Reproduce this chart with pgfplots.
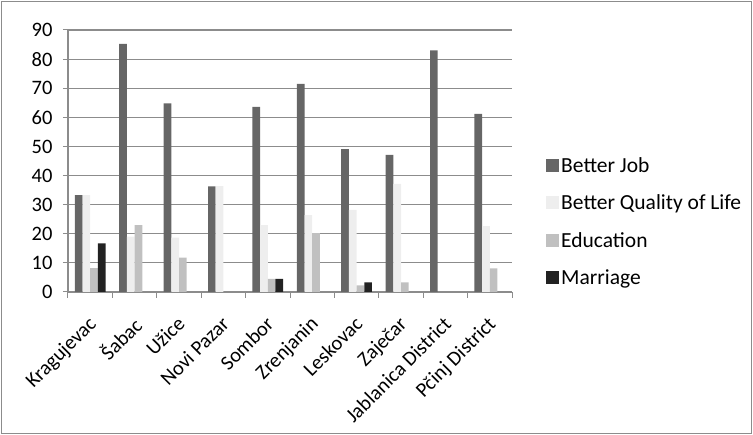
\documentclass[border=0pt]{standalone}
\usepackage{fontspec}
\setmainfont{Carlito}
\usepackage{pgfplots}
\pgfplotsset{compat=1.18}
\definecolor{cjob}{HTML}{666666}
\definecolor{cqol}{HTML}{EEEEEE}
\definecolor{cedu}{HTML}{C0C0C0}
\definecolor{cmar}{HTML}{222222}
\definecolor{gridc}{HTML}{8C8C8C}
\begin{document}
\begin{tikzpicture}
\useasboundingbox (0pt,0pt) rectangle (753pt,435pt);
\draw[gridc,line width=1pt] (1.5pt,1.5pt) rectangle (751.5pt,433.5pt);
\begin{axis}[
  at={(68pt,143pt)}, anchor=south west,
  scale only axis, width=444pt, height=262pt,
  xmin=-0.5, xmax=9.5, ymin=0, ymax=90,
  ybar=0pt, bar width=0.173,
  axis x line*=bottom, axis y line*=left,
  axis line style={gridc,line width=1.2pt,-},
  ytick={0,10,...,90},
  ymajorgrids, grid style={gridc,line width=1.2pt},
  xtick={0,...,9},
  xticklabels={Kragujevac,Šabac,Užice,Novi Pazar,Sombor,Zrenjanin,Leskovac,Zaječar,Jablanica District,Pčinj District},
  x tick label style={xshift=-3pt,yshift=-18pt,rotate=45,anchor=north east,inner sep=0pt},
  y tick label style={xshift=-7pt},
  major x tick style={draw=none},
  minor xtick={-0.5,0.5,...,9.5},
  minor x tick style={gridc,line width=1pt},
  minor tick length=6pt,
  y tick style={gridc,line width=1pt},
  major tick length=5pt,
  tick align=outside,
  ticklabel style={font=\fontsize{20.5}{22}\selectfont, text=black},
  /pgf/number format/assume math mode=true,
  legend style={at={(1.0766,0.269)}, anchor=west, draw=none, fill=none,
    font=\fontsize{21.5}{23}\selectfont, row sep=17pt, inner sep=0pt,
    legend cell align=left, nodes={inner sep=2pt}},
  legend image code/.code={\fill[#1] (0pt,-6.5pt) rectangle (13pt,6.5pt);},
]
\addplot[fill=cjob,draw=none] coordinates {(0,33.3) (1,85.2) (2,64.8) (3,36.3) (4,63.6) (5,71.5) (6,49.1) (7,47.1) (8,83.0) (9,61.2)};
\addplot[fill=cqol,draw=none] coordinates {(0,33.3) (1,19.0) (2,18.7) (3,36.4) (4,23.0) (5,26.4) (6,28.2) (7,37.1) (9,22.6)};
\addplot[fill=cedu,draw=none] coordinates {(0,8.2) (1,23.0) (2,11.8) (4,4.5) (5,20.2) (6,2.3) (7,3.3) (9,8.1)};
\addplot[fill=cmar,draw=none] coordinates {(0,16.7) (4,4.5) (6,3.3)};
\legend{Better Job,Better Quality of Life,Education,Marriage}
\end{axis}
\end{tikzpicture}
\end{document}
